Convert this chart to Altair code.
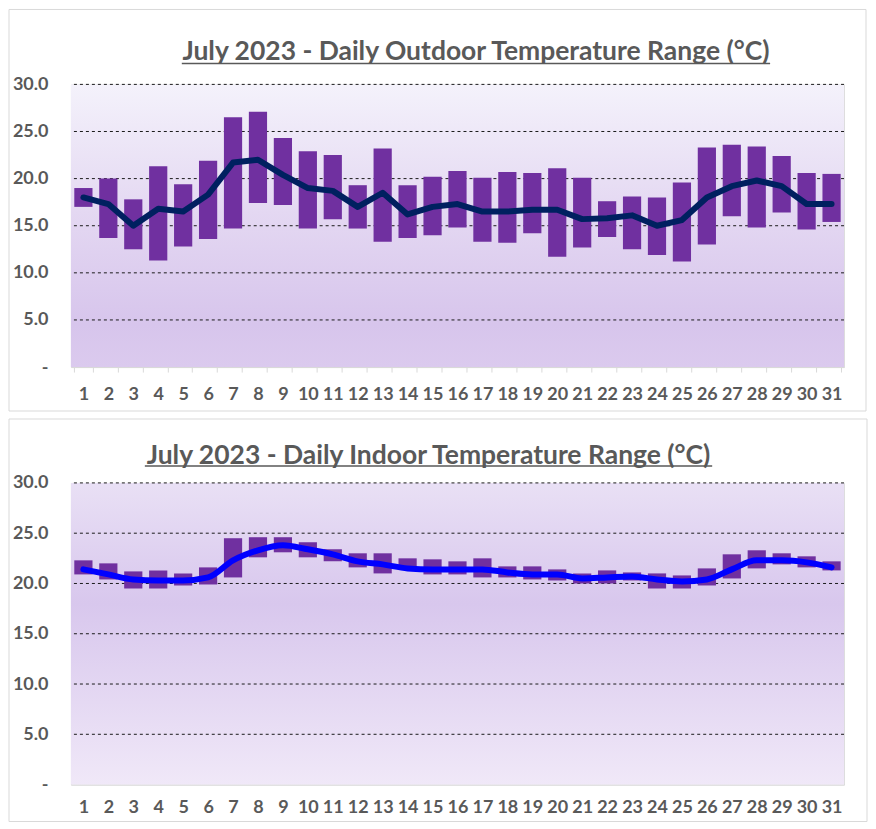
import altair as alt
import pandas as pd

days = list(range(1, 32))

out_max = [19.0, 20.0, 17.8, 21.3, 19.4, 21.9, 26.5, 27.1, 24.3, 22.9, 22.5, 19.3, 23.2, 19.3, 20.2, 20.8,
           20.1, 20.7, 20.6, 21.1, 20.1, 17.6, 18.1, 18.0, 19.6, 23.3, 23.6, 23.4, 22.4, 20.6, 20.5]
out_min = [17.0, 13.7, 12.5, 11.3, 12.8, 13.6, 14.7, 17.4, 17.2, 14.7, 15.7, 14.7, 13.3, 13.7, 14.0, 14.8,
           13.3, 13.2, 14.2, 11.7, 12.7, 13.8, 12.5, 11.9, 11.2, 13.0, 16.0, 14.8, 16.4, 14.6, 15.4]
out_avg = [18.0, 17.3, 15.0, 16.8, 16.5, 18.3, 21.7, 22.0, 20.4, 19.0, 18.7, 17.0, 18.5, 16.2, 17.0, 17.3,
           16.5, 16.5, 16.7, 16.7, 15.7, 15.8, 16.1, 15.0, 15.6, 18.0, 19.2, 19.8, 19.2, 17.3, 17.3]

in_max = [22.3, 22.0, 21.2, 21.3, 21.0, 21.6, 24.5, 24.6, 24.6, 24.1, 23.4, 23.0, 23.0, 22.5, 22.4, 22.2,
          22.5, 21.7, 21.7, 21.4, 21.0, 21.3, 21.1, 21.0, 20.8, 21.5, 22.9, 23.3, 23.0, 22.7, 22.2]
in_min = [20.9, 20.4, 19.5, 19.5, 19.8, 19.9, 20.6, 22.6, 23.1, 22.6, 22.2, 21.6, 21.0, 21.4, 20.9, 20.9,
          20.6, 20.6, 20.4, 20.3, 20.0, 20.0, 20.3, 19.5, 19.5, 19.8, 20.5, 21.5, 21.9, 21.6, 21.3]
in_avg = [21.4, 20.9, 20.4, 20.3, 20.3, 20.6, 22.3, 23.3, 23.8, 23.4, 22.9, 22.2, 21.9, 21.5, 21.4, 21.4,
          21.4, 21.1, 20.9, 20.9, 20.5, 20.6, 20.7, 20.4, 20.2, 20.4, 21.4, 22.3, 22.3, 22.1, 21.6]

y_ticks = [0, 5, 10, 15, 20, 25, 30]
grid_vals = [5, 10, 15, 20, 25, 30]

TITLE_OUT = "July 2023 - Daily Outdoor Temperature Range (°C)"
TITLE_IN = "July 2023 - Daily Indoor Temperature Range (°C)"

FONT = "Lato"
GRAY = "#595959"
W = 774


def panel(mx, mn, avg, title, height, line_color, interp, stops, show_ticks,
          title_x, title_y, ul_x1, ul_x2, ul_y, frame):
    df = pd.DataFrame({"day": days, "max": mx, "min": mn, "avg": avg})
    base = alt.Chart(df)
    one = alt.Data(values=[{}])

    xenc = alt.X(
        "day:O",
        scale=alt.Scale(paddingInner=0.27, paddingOuter=0.135),
        axis=alt.Axis(
            title=None, labelAngle=0, labelFont=FONT, labelFontSize=18, labelFontWeight="bold",
            labelColor=GRAY, domainColor="#d9d9d9", ticks=show_ticks, tickColor="#d9d9d9",
            tickSize=5, tickBand="extent", labelPadding=13 if show_ticks else 14,
        ),
    )
    yscale = alt.Scale(domain=[0, 30], nice=False, zero=True)
    yenc_axis = alt.Axis(
        title=None, values=y_ticks, grid=False, domain=False, ticks=False,
        labelExpr="datum.value === 0 ? '-\u2007' : format(datum.value, '.1f')",
        labelFont=FONT, labelFontSize=18, labelFontWeight="bold", labelColor=GRAY,
        labelPadding=23, minExtent=57, maxExtent=57,
    )

    fx1, fx2, fy1, fy2 = frame
    border = alt.Chart(one).mark_rect(
        filled=False, stroke="#d9d9d9", strokeWidth=1
    ).encode(x=alt.value(fx1), x2=alt.value(fx2), y=alt.value(fy1), y2=alt.value(fy2))

    bg = alt.Chart(one).mark_rect(
        fill=alt.LinearGradient(
            gradient="linear", x1=0, x2=0, y1=0, y2=1,
            stops=[alt.GradientStop(color=c, offset=o) for o, c in stops],
        )
    ).encode(x=alt.value(0), x2=alt.value(W), y=alt.value(0), y2=alt.value(height))

    grid = alt.Chart(pd.DataFrame({"v": grid_vals})).mark_rule(
        color="#1a1a1a", strokeWidth=1, strokeDash=[3, 3]
    ).encode(y=alt.Y("v:Q", scale=yscale, axis=yenc_axis))

    bars = base.mark_bar(color="#7030a0").encode(
        x=xenc, y=alt.Y("min:Q", scale=yscale), y2="max:Q"
    )
    line = base.mark_line(
        color=line_color, strokeWidth=6, interpolate=interp, strokeCap="round", strokeJoin="round"
    ).encode(x=xenc, y=alt.Y("avg:Q", scale=yscale))

    ttl = alt.Chart(one).mark_text(
        font=FONT, fontSize=26.5, fontWeight="bold", color=GRAY, align="center", baseline="alphabetic"
    ).encode(text=alt.value(title), x=alt.value(title_x), y=alt.value(title_y))

    underline = alt.Chart(one).mark_rule(color=GRAY, strokeWidth=1.5).encode(
        x=alt.value(ul_x1), x2=alt.value(ul_x2), y=alt.value(ul_y)
    )

    return alt.layer(border, bg, grid, bars, line, ttl, underline).properties(width=W, height=height)


top = panel(out_max, out_min, out_avg, TITLE_OUT, 283, "#002060", "linear",
            [(0, "#f4f2fb"), (0.45, "#e4d8f2"), (0.85, "#d7c5ec"), (1, "#dbcaee")],
            True, 405.5, -24, 111, 700, -21, (-62, 796, -75, 327))
bottom = panel(in_max, in_min, in_avg, TITLE_IN, 302, "#0000ff", "monotone",
               [(0, "#e9e0f5"), (0.4, "#d8c7ed"), (1, "#f0e8f8")],
               False, 358, -19, 74, 642, -17, (-62, 797, -64, 339))

chart = alt.vconcat(top, bottom, spacing=6).properties(
    padding={"left": 0, "top": 0, "right": 0, "bottom": 0}
).configure_view(stroke=None).configure(background="white")

chart.save("out.html", embed_options={"renderer": "svg", "actions": False})
